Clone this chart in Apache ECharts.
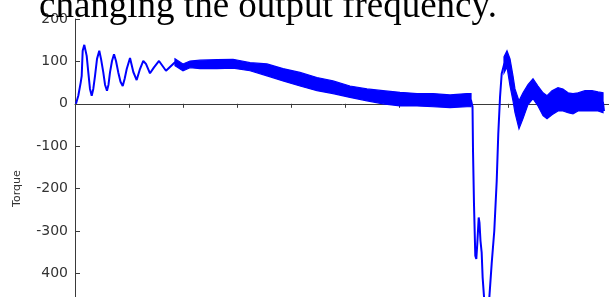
<!DOCTYPE html>
<html>
<head>
<meta charset="utf-8">
<script src="https://cdn.jsdelivr.net/npm/echarts@6/dist/echarts.min.js"></script>
<style>
html,body{margin:0;padding:0;background:#fff;}
#chart{width:609px;height:297px;}
</style>
</head>
<body>
<div id="chart"></div>
<script>
// Trace centre line (x in axis units, y = torque)
const traceX = [0.018,0.061,0.105,0.124,0.142,0.172,0.194,0.216,0.246,0.277,0.309,0.338,0.370,0.407,0.449,0.481,0.523,0.555,0.591,0.619,0.647,0.684,0.721,0.758,0.800,0.841,0.882,0.918,0.956,1.017,1.078,1.140,1.201,1.262,1.312,1.386,1.460,1.553,1.682,1.848,1.996,2.126,2.311,2.625,2.921,3.235,3.549,3.845,4.159,4.473,4.769,5.083,5.397,5.693,6.007,6.322,6.617,6.932,7.246,7.320,7.348,7.357,7.375,7.399,7.418,7.436,7.462,7.477,7.495,7.517,7.535,7.562,7.606,7.658,7.702,7.750,7.795,7.824,7.856,7.887,7.930,7.985,8.041,8.096,8.133,8.207,8.281,8.373,8.466,8.558,8.651,8.725,8.817,8.928,9.020,9.113,9.205,9.298,9.427,9.556,9.667,9.760,9.778];
const traceY = [0,19,50,66,125,139,137,113,74,35,19,35,66,106,125,106,74,45,31,45,74,101,117,101,74,52,42,59,82,108,75,56,82,101,94,72,86,101,78,98,86,93,93,93.5,94.5,87.5,80,68.5,58,46.5,39,28.5,21,15.5,11,9.5,8.5,6,8.5,8.5,-7,-111,-236,-358,-366,-330,-268,-281,-323,-351,-410,-458,-512,-458,-377,-300,-182,-71,15,71,92,106,75,37,7,-26,-5,22,35,19,-1,-8,3,10,9,3,0,5,7,7,6,3,-17];

// Noise band of the slow section (upper / lower edge)
const plateauX  = [1.848,1.996,2.126,2.311,2.625,2.921,3.235,3.549,3.845,4.159,4.473,4.769,5.083,5.397,5.693,6.007,6.322,6.617,6.932,7.246,7.320];
const plateauHi = [106,94,101,103,104,105,97,94,83,74,62,54,42,35,31,27,24,24,21,24,24];
const plateauLo = [90,78,85,83,83,84,78,66,54,42,31,24,15,7,0,-5,-5,-7,-9,-7,-7];

// Noise band after the frequency change
const tailX  = [7.930,7.985,8.041,8.096,8.133,8.207,8.281,8.373,8.466,8.558,8.651,8.725,8.817,8.928,9.020,9.113,9.205,9.298,9.427,9.556,9.667,9.760];
const tailHi = [111,125,106,66,35,7,26,45,59,42,26,19,31,38,35,26,24,26,31,31,28,26];
const tailLo = [73,87,42,7,-21,-59,-35,-2,12,-5,-28,-35,-26,-17,-17,-21,-24,-17,-17,-17,-17,-21];

const yTicks  = [200,100,0,-100,-200,-300,-400,-500,-600];
const yLabels = ['200','100','0','-100','-200','-300','400','-500','-600'];

const titleText = 'changing the output frequency.';
const yName = 'Torque';

const BLUE = '#0000ff';
const AXIS = '#3a3a3a';

function bandSeries(X, Hi, Lo) {
  return {
    type: 'custom',
    silent: true,
    z: 3,
    data: X.map((x, i) => [x, Hi[i], Lo[i]]),
    encode: { x: 0, y: [1, 2] },
    renderItem: function (params, api) {
      if (params.dataIndex !== 0) return null;
      const pts = [];
      for (let i = 0; i < X.length; i++) pts.push(api.coord([X[i], Hi[i]]));
      for (let i = X.length - 1; i >= 0; i--) pts.push(api.coord([X[i], Lo[i]]));
      return {
        type: 'polygon',
        shape: { points: pts },
        style: { fill: BLUE, stroke: BLUE, lineWidth: 1.2 }
      };
    }
  };
}

const chart = echarts.init(document.getElementById('chart'), null, { renderer: 'canvas' });
chart.setOption({
  animation: false,
  backgroundColor: '#ffffff',
  grid: { left: 75, top: 19, width: 541, height: 339.2, containLabel: false, outerBoundsMode: 'none' },
  graphic: [{
    type: 'text',
    left: 39,
    top: -11,
    z: 10,
    style: { text: titleText, font: '37px "Liberation Serif"', fill: '#000' }
  }],
  xAxis: {
    type: 'value',
    min: 0, max: 10, interval: 1,
    position: 'top',
    axisLine: { show: true, lineStyle: { color: AXIS, width: 1 } },
    axisTick: { show: true, inside: true, length: 4, lineStyle: { color: AXIS } },
    axisLabel: { show: false },
    splitLine: { show: false }
  },
  yAxis: {
    type: 'value',
    min: -600, max: 200, interval: 100,
    name: yName,
    nameLocation: 'middle',
    nameGap: 52,
    nameRotate: 90,
    nameTextStyle: { fontFamily: 'DejaVu Sans', fontSize: 11, color: '#333' },
    axisLine: { show: true, lineStyle: { color: AXIS, width: 1 } },
    axisTick: { show: true, inside: true, length: 5, lineStyle: { color: AXIS } },
    axisLabel: {
      margin: 7,
      fontFamily: 'DejaVu Sans', fontSize: 14, color: '#333',
      formatter: function (v) { const k = yTicks.indexOf(v); return k >= 0 ? yLabels[k] : String(v); }
    },
    splitLine: { show: false }
  },
  series: [
    {
      type: 'line',
      data: traceX.map((x, i) => [x, traceY[i]]),
      showSymbol: false,
      symbol: 'none',
      z: 4,
      lineStyle: { color: BLUE, width: 2 }
    },
    bandSeries(plateauX, plateauHi, plateauLo),
    bandSeries(tailX, tailHi, tailLo)
  ]
});
</script>
</body>
</html>
